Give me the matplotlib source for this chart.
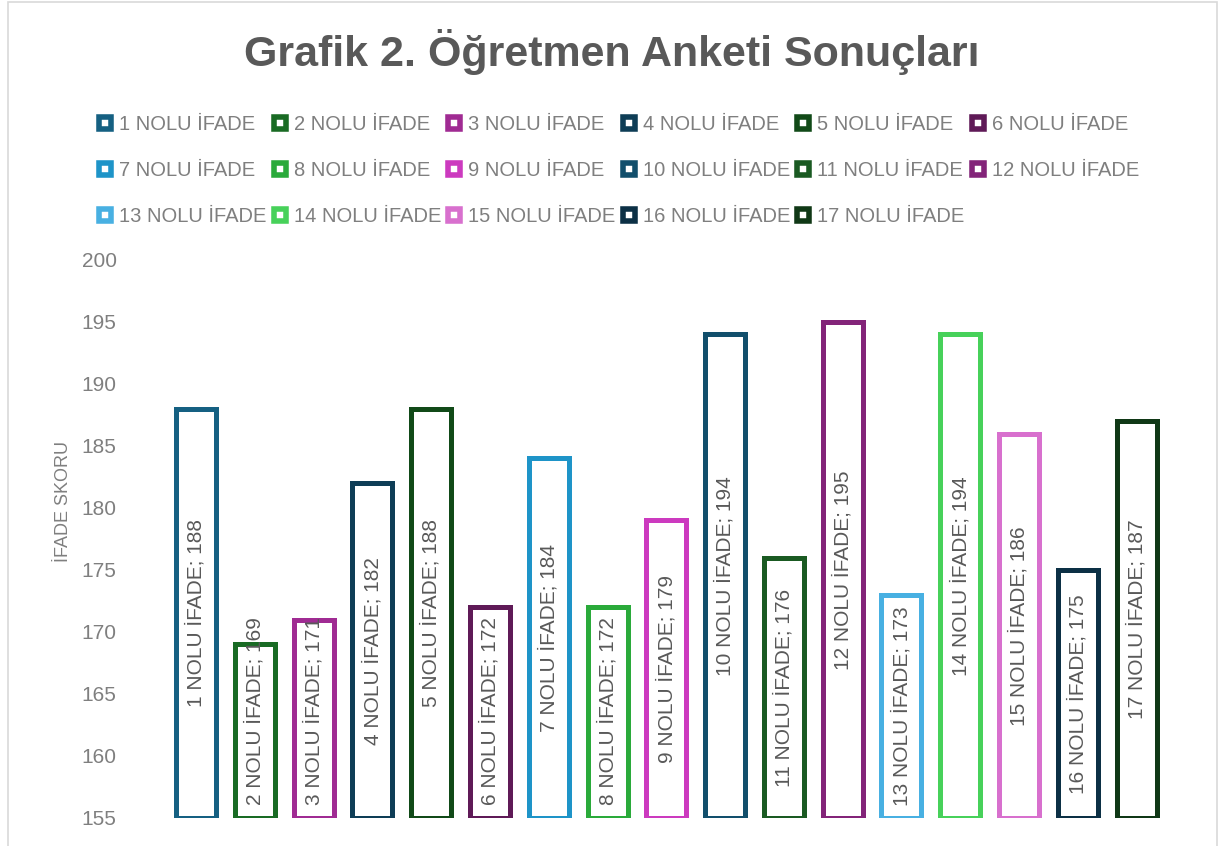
import matplotlib
matplotlib.use('Agg')
import matplotlib.pyplot as plt
from matplotlib.lines import Line2D
from matplotlib.patches import Rectangle

plt.rcParams['font.family'] = ['Liberation Sans', 'DejaVu Sans']

# data
labels = [f'{i} NOLU İFADE' for i in range(1, 18)]
scores = [188, 169, 171, 182, 188, 172, 184, 172, 179, 194, 176, 195, 173, 194, 186, 175, 187]
colors = ['#156082', '#196B24', '#A02B93', '#0E3D56', '#114A18', '#5F1A57',
          '#1E94C8', '#2AAA3A', '#CC3ABF', '#124F6C', '#1A5A22', '#832479',
          '#48B0E2', '#47D15A', '#D870CE', '#0C3045', '#103816']
yticks = list(range(155, 201, 5))

title_col = '#595959'
text_col = '#7f7f7f'

fig = plt.figure(figsize=(12.19, 8.46), dpi=100)
ax = fig.add_axes([0.1367, 0.0331, 0.8198, 0.6596])

x = list(range(len(scores)))
bottom = yticks[0]
ax.bar(x, [s - bottom for s in scores], bottom=bottom, width=0.68,
       color='white', edgecolor=colors, linewidth=3.6, zorder=2)

# labels are centred in the bar, but never sit lower than for a short bar
min_mid = bottom + 8.6
for xi, s, lab in zip(x, scores, labels):
    ax.text(xi, max((bottom + s) / 2, min_mid), f'{lab}; {s}', rotation=90,
            ha='center', va='center', fontsize=15, color='#595959', zorder=3)

ax.set_xlim(-0.5, len(scores) - 0.5)
ax.set_ylim(yticks[0], yticks[-1])
ax.set_yticks(yticks)
ax.set_xticks([])
ax.tick_params(axis='y', length=0, pad=36, labelsize=15, labelcolor=text_col)
for sp in ax.spines.values():
    sp.set_visible(False)
ax.set_ylabel('İFADE SKORU', fontsize=13, color=text_col)
ax.yaxis.set_label_coords(-0.095, 0.568)

fig.text(0.502, 0.9385, 'Grafik 2. Öğretmen Anketi Sonuçları',
         ha='center', va='center', fontsize=31, fontweight='bold',
         color=title_col)

# legend: matplotlib fills column-major, reorder so it reads row by row
ncol = 6
handles = [Line2D([], [], marker='s', linestyle='none', markersize=8.6,
                  markerfacecolor='white', markeredgecolor=c,
                  markeredgewidth=4.0) for c in colors]
order = []
for c in range(ncol):
    order += list(range(c, len(labels), ncol))
leg = fig.legend([handles[i] for i in order], [labels[i] for i in order],
                 loc='upper left', bbox_to_anchor=(0.0788, 0.8635), ncol=ncol,
                 frameon=False, fontsize=14.5, handlelength=0.9,
                 handletextpad=0.25, columnspacing=0.2, labelspacing=1.33,
                 borderpad=0, borderaxespad=0)
for t in leg.get_texts():
    t.set_color(text_col)

fig.add_artist(Rectangle((0.0066, -0.05), 0.9918, 1.0476, transform=fig.transFigure,
                         fill=False, edgecolor='#d9d9d9', linewidth=1.2))

fig.savefig('out.png', dpi=100)
